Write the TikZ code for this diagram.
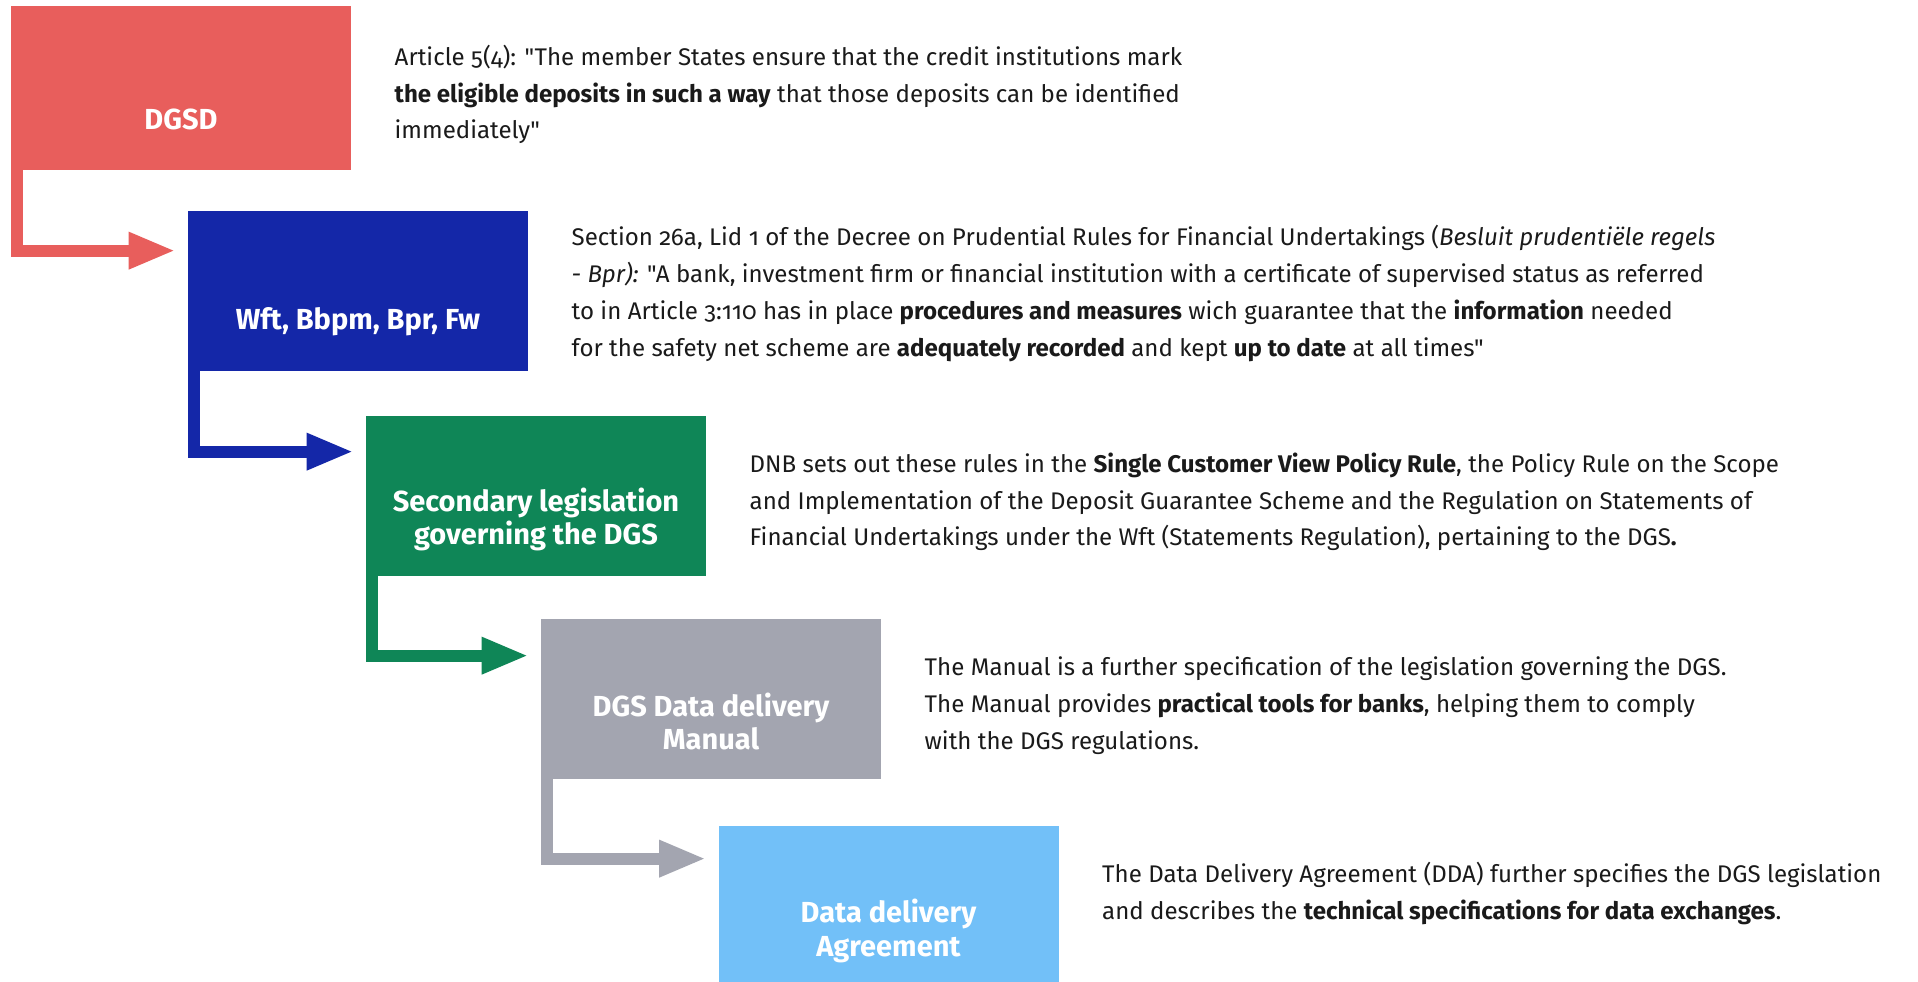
\documentclass[tikz,border=0pt]{standalone}
\usepackage{fontspec}
\setmainfont[Numbers=OldStyle, Ligatures=TeXOff]{Fira Sans}
\usepackage{xcolor}
\usepackage{tikz}
\usetikzlibrary{positioning}
\usetikzlibrary{arrows.meta}
\definecolor{dgsdred}{RGB}{232,94,92}
\definecolor{wftblue}{RGB}{20,39,168}
\definecolor{secgreen}{RGB}{15,134,87}
\definecolor{mangray}{RGB}{163,165,176}
\definecolor{ddablue}{RGB}{114,192,248}
\definecolor{notetext}{RGB}{26,26,26}
\tikzset{
	stepbox/.style={fill=#1, minimum width=6.8cm, minimum height=3.2cm, inner sep=0pt},
	boxtext/.style={text=white, font=\fontsize{16.5}{19.3}\selectfont\bfseries, align=center},
	note/.style={right=0.86cm of #1, inner sep=0pt, align=left, text=notetext, font=\fontsize{13.7}{20.9}\selectfont},
	flow/.style={line width=0.24cm, draw=#1, -{Triangle[length=0.94cm, width=0.68cm]}},
}

\begin{document}
\begin{tikzpicture}
			\useasboundingbox (0, 0) rectangle (38.36, 19.62);
			\fill[white] (0, 0) rectangle (38.36, 19.62);
			% steps
			\node[stepbox=dgsdred, minimum height=3.28cm, label={[boxtext, yshift=-0.62cm]center:DGSD}] (dgsd) at (3.62, 17.86) {};
			\node[stepbox=wftblue, label={[boxtext, yshift=-0.62cm]center:Wft, Bbpm, Bpr, Fw}] (wft) at (7.16, 13.8) {};
			\node[stepbox=secgreen, label={[boxtext, yshift=-0.47cm]center:Secondary legislation\\governing the DGS}] (sec) at (10.72, 9.7) {};
			\node[stepbox=mangray, label={[boxtext, yshift=-0.45cm]center:DGS Data delivery\\Manual}] (manual) at (14.22, 5.64) {};
			\node[stepbox=ddablue, label={[boxtext, yshift=-0.5cm]center:Data delivery\\Agreement}] (dda) at (17.77, 1.5) {};
			% notes
			\node[note=dgsd, yshift=-0.13cm] (dgsdnote) {Article 5(4): "The member States ensure that the credit institutions mark\\\textbf{the eligible deposits in such a way} that those deposits can be identified\\immediately"};
			\node[note=wft, yshift=-0.05cm] (wftnote) {Section 26a, Lid 1 of the Decree on Prudential Rules for Financial Undertakings (\textit{Besluit prudentiële regels}\\\textit{- Bpr):} "A bank, investment firm or financial institution with a certificate of supervised status as referred\\to in Article 3:110 has in place \textbf{procedures and measures} wich guarantee that the \textbf{information} needed\\for the safety net scheme are \textbf{adequately recorded} and kept \textbf{up to date} at all times"};
			\node[note=sec, yshift=-0.12cm] (secnote) {DNB sets out these rules in the \textbf{Single Customer View Policy Rule}, the Policy Rule on the Scope\\and Implementation of the Deposit Guarantee Scheme and the Regulation on Statements of\\Financial Undertakings under the Wft (Statements Regulation), pertaining to the DGS\textbf{.}};
			\node[note=manual, yshift=-0.13cm] (manualnote) {The Manual is a further specification of the legislation governing the DGS.\\The Manual provides \textbf{practical tools for banks}, helping them to comply\\with the DGS regulations.};
			\node[note=dda, yshift=0.25cm] (ddanote) {The Data Delivery Agreement (DDA) further specifies the DGS legislation\\and describes the \textbf{technical specifications for data exchanges}.};
			% arrows
			\draw[flow=dgsdred] ([xshift=0.12cm]dgsd.south west) |- ([xshift=-0.24cm, yshift=-0.8cm]wft.north west);
			\draw[flow=wftblue] ([xshift=0.12cm]wft.south west) |- ([xshift=-0.24cm, yshift=-0.72cm]sec.north west);
			\draw[flow=secgreen] ([xshift=0.12cm]sec.south west) |- ([xshift=-0.24cm, yshift=-0.74cm]manual.north west);
			\draw[flow=mangray] ([xshift=0.12cm]manual.south west) |- ([xshift=-0.24cm, yshift=-0.66cm]dda.north west);
		\end{tikzpicture}
\end{document}
